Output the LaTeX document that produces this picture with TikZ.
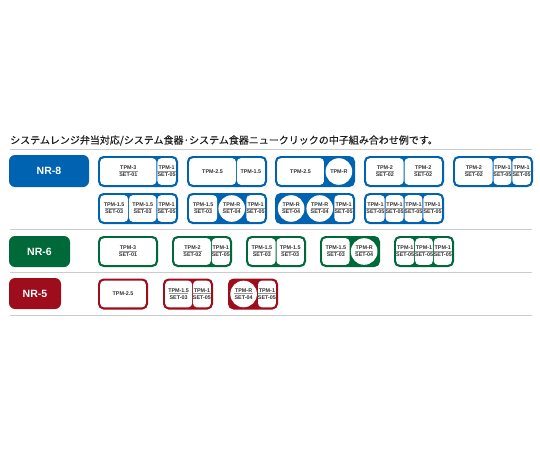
\documentclass[tikz,border=0pt]{standalone}
\usepackage{fontspec}
\setmainfont{Liberation Sans}
\newfontfamily\jpfont[FakeBold=0.4]{Noto Sans CJK JP}
\definecolor{nrblue}{HTML}{0063B2}
\definecolor{nrgreen}{HTML}{00693A}
\definecolor{nrred}{HTML}{9D0D1C}
\definecolor{rulegray}{HTML}{CCCCCC}
\definecolor{txtgray}{HTML}{333333}
\definecolor{ulgray}{HTML}{9A9A9A}
\definecolor{titlegray}{HTML}{1E1E1E}
\tikzset{
  cellt/.style={inner sep=0pt, font=\fontsize{5.4}{5.4}\selectfont\bfseries, text=txtgray},
  nrlab/.style={rounded corners=6pt, text=white, font=\fontsize{10.5}{12}\selectfont\bfseries, inner sep=0pt},
  sepline/.style={rulegray, line width=1pt},
  ulline/.style={ulgray, line width=0.6pt},
}
% #1 name, #2 x, #3 y, #4 units, #5 colour, #6 cells a/b/type/top/bottom
% type: 0 rect two-line, 1 circle two-line, 2 rect single, 3 circle single
\newcommand\mkbox[6]{%
  \fill[#5, rounded corners=5.5pt] (#2,#3) rectangle ++(#4*20,31);
  \foreach \a/\b/\t/\p/\q [count=\i] in {#6}{%
    \pgfmathsetmacro\xl{#2+2.2+\a/#4*(#4*20-4.4)+(\a>0 ? 0.5 : 0)}%
    \pgfmathsetmacro\xr{#2+2.2+\b/#4*(#4*20-4.4)-(\b<#4 ? 0.5 : 0)}%
    \pgfmathsetmacro\xc{(\xl+\xr)/2}%
    \pgfmathsetmacro\yc{#3+15.5}%
    \ifodd\t\relax
      \fill[white] (\xc,\yc) circle (13.3pt);
    \else
      \fill[white, rounded corners=3.8pt] (\xl,#3+2.2) rectangle (\xr,#3+28.8);
    \fi
    \ifnum\t<2\relax
      \node[cellt] (#1-\i-t) at (\xc,\yc-3.7) {\p};
      \node[cellt] (#1-\i-s) at (\xc,\yc+3.4) {\q};
      \pgfmathsetmacro\ly{\yc-0.3}%
      \draw[ulline] (#1-\i-s.west |- 0,\ly) -- (#1-\i-s.east |- 0,\ly);
    \else
      \node[cellt] (#1-\i-t) at (\xc,\yc) {\p};
    \fi
  }%
}
\begin{document}
\begin{tikzpicture}[x=1pt,y=-1pt]
\useasboundingbox (0,0) rectangle (540,450);
\node[anchor=west, inner sep=0pt, text=titlegray, font=\jpfont\fontsize{10}{12}\selectfont] (title) at (10,140.5) {システムレンジ弁当対応/システム食器·システム食器ニュークリックの中子組み合わせ例です。};
\draw[sepline] (10,149) -- (532,149);
\draw[sepline] (10,229) -- (532,229);
\draw[sepline] (10,272) -- (532,272);
\draw[sepline] (10,315) -- (532,315);
\node[nrlab, fill=nrblue, minimum width=80pt, minimum height=32pt] (nr8) at (49,171) {NR-8};
\node[nrlab, fill=nrgreen, minimum width=61pt, minimum height=31pt] (nr6) at (39.5,251.5) {NR-6};
\node[nrlab, fill=nrred, minimum width=52pt, minimum height=31pt] (nr5) at (35,293.5) {NR-5};
% NR-8 row 1
\mkbox{a1}{98}{156}{4}{nrblue}{0/3/0/TPM-3/SET-01, 3/4/0/TPM-1/SET-05}
\mkbox{a2}{187}{156}{4}{nrblue}{0/2.5/2/TPM-2.5/x, 2.5/4/2/TPM-1.5/x}
\mkbox{a3}{275}{156}{4}{nrblue}{0/2.5/2/TPM-2.5/x, 2.5/4/3/TPM-R/x}
\mkbox{a4}{364}{156}{4}{nrblue}{0/2/0/TPM-2/SET-02, 2/4/0/TPM-2/SET-02}
\mkbox{a5}{453}{156}{4}{nrblue}{0/2/0/TPM-2/SET-02, 2/3/0/TPM-1/SET-05, 3/4/0/TPM-1/SET-05}
% NR-8 row 2
\mkbox{b1}{98}{193}{4}{nrblue}{0/1.5/0/TPM-1.5/SET-03, 1.5/3/0/TPM-1.5/SET-03, 3/4/0/TPM-1/SET-05}
\mkbox{b2}{187}{193}{4}{nrblue}{0/1.5/0/TPM-1.5/SET-03, 1.5/3/1/TPM-R/SET-04, 3/4/0/TPM-1/SET-05}
\mkbox{b3}{275}{193}{4}{nrblue}{0/1.5/1/TPM-R/SET-04, 1.5/3/1/TPM-R/SET-04, 3/4/0/TPM-1/SET-05}
\mkbox{b4}{364}{193}{4}{nrblue}{0/1/0/TPM-1/SET-05, 1/2/0/TPM-1/SET-05, 2/3/0/TPM-1/SET-05, 3/4/0/TPM-1/SET-05}
% NR-6
\mkbox{c1}{98}{236}{3}{nrgreen}{0/3/0/TPM-3/SET-01}
\mkbox{c2}{172}{236}{3}{nrgreen}{0/2/0/TPM-2/SET-02, 2/3/0/TPM-1/SET-05}
\mkbox{c3}{246}{236}{3}{nrgreen}{0/1.5/0/TPM-1.5/SET-03, 1.5/3/0/TPM-1.5/SET-03}
\mkbox{c4}{320}{236}{3}{nrgreen}{0/1.5/0/TPM-1.5/SET-03, 1.5/3/1/TPM-R/SET-04}
\mkbox{c5}{394}{236}{3}{nrgreen}{0/1/0/TPM-1/SET-05, 1/2/0/TPM-1/SET-05, 2/3/0/TPM-1/SET-05}
% NR-5
\mkbox{d1}{98}{278.5}{2.5}{nrred}{0/2.5/2/TPM-2.5/x}
\mkbox{d2}{163}{278.5}{2.5}{nrred}{0/1.5/0/TPM-1.5/SET-03, 1.5/2.5/0/TPM-1/SET-05}
\mkbox{d3}{228}{278.5}{2.5}{nrred}{0/1.5/1/TPM-R/SET-04, 1.5/2.5/0/TPM-1/SET-05}
\end{tikzpicture}
\end{document}
